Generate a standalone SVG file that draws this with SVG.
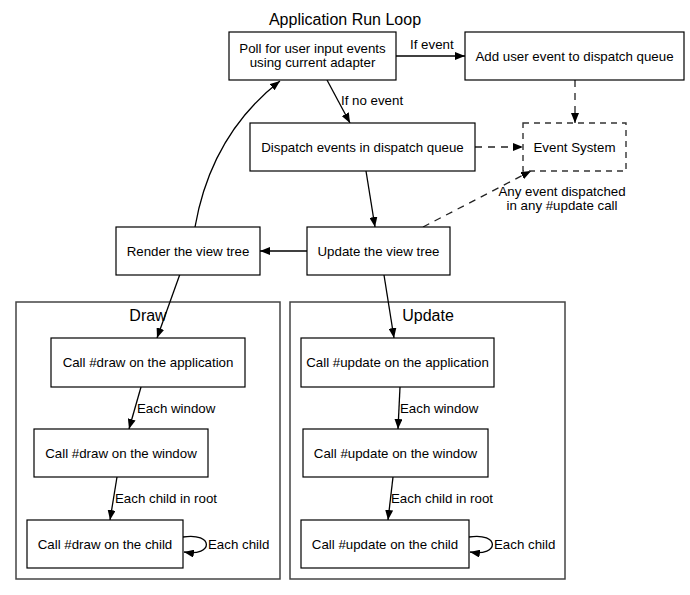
<svg xmlns="http://www.w3.org/2000/svg" width="690" height="595" viewBox="0 0 690 595">
<style>
text{font-family:"Liberation Sans",Arial,sans-serif;font-size:13.3px;fill:#000}
.t{text-anchor:middle}
.big{font-size:16px}
.node{fill:#fff;stroke:#000;stroke-width:1.2}
.dnode{fill:#fff;stroke:#333;stroke-width:1.4;stroke-dasharray:6,5}
.cl{fill:none;stroke:#444;stroke-width:1.5}
.e{fill:none;stroke:#000;stroke-width:1.3}
.de{fill:none;stroke:#222;stroke-width:1.3;stroke-dasharray:7,6}
</style>
<defs>
<marker id="ah" viewBox="0 0 10 8" refX="10" refY="4" markerWidth="10" markerHeight="8" markerUnits="userSpaceOnUse" orient="auto">
<path d="M0,0 L10,4 L0,8 Z" fill="#000"/>
</marker>
</defs>
<rect width="690" height="595" fill="#fff"/>
<text class="t big" x="345" y="25">Application Run Loop</text>

<g id="cluster-draw">
<rect class="cl" x="16" y="302" width="264" height="277"/>
<text class="t big" x="148" y="321">Draw</text>
</g>
<g id="cluster-update">
<rect class="cl" x="290" y="302" width="275" height="277"/>
<text class="t big" x="428" y="321">Update</text>
</g>

<g id="connectors">
<path class="e" d="M396,56 L465,56" marker-end="url(#ah)"/>
<text x="410" y="49">If event</text>
<path class="e" d="M327,80 L350,123" marker-end="url(#ah)"/>
<text x="341" y="105">If no event</text>
<path class="de" d="M575,80 L575,123" marker-end="url(#ah)"/>
<path class="de" d="M475,147 L523,147" marker-end="url(#ah)"/>
<path class="e" d="M366,171 L375,227" marker-end="url(#ah)"/>
<path class="de" d="M423,227 L531,171" marker-end="url(#ah)"/>
<text class="t" x="562" y="196">Any event dispatched</text>
<text class="t" x="562" y="210">in any #update call</text>
<path class="e" d="M307,251 L260,251" marker-end="url(#ah)"/>
<path class="e" d="M195,227 C205,170 230,120 280,81" marker-end="url(#ah)"/>
<path class="e" d="M180,274 L157,338" marker-end="url(#ah)"/>
<path class="e" d="M141,387 L129,429" marker-end="url(#ah)"/>
<text x="137" y="413">Each window</text>
<path class="e" d="M117,477 L110,520" marker-end="url(#ah)"/>
<text x="115" y="503">Each child in root</text>
<path class="e" d="M183,537 C214,532 214,557 184,552" marker-end="url(#ah)"/>
<text x="208" y="549">Each child</text>
<path class="e" d="M384,275 L394,338" marker-end="url(#ah)"/>
<path class="e" d="M400,387 L398,429" marker-end="url(#ah)"/>
<text x="400" y="413">Each window</text>
<path class="e" d="M393,477 L388,520" marker-end="url(#ah)"/>
<text x="391" y="503">Each child in root</text>
<path class="e" d="M469,537 C500,532 500,557 470,552" marker-end="url(#ah)"/>
<text x="494" y="549">Each child</text>
</g>

<g id="poll">
<rect class="node" x="229" y="32" width="167" height="48"/>
<text class="t" x="312.5" y="53">Poll for user input events</text>
<text class="t" x="312.5" y="67">using current adapter</text>
</g>
<g id="add-event">
<rect class="node" x="465" y="32" width="219" height="48"/>
<text class="t" x="574.5" y="61">Add user event to dispatch queue</text>
</g>
<g id="dispatch">
<rect class="node" x="250" y="123" width="225" height="48"/>
<text class="t" x="362.5" y="152">Dispatch events in dispatch queue</text>
</g>
<g id="event-system">
<rect class="dnode" x="523" y="123" width="103" height="48"/>
<text class="t" x="574.5" y="152">Event System</text>
</g>
<g id="update-tree">
<rect class="node" x="307" y="227" width="143" height="48"/>
<text class="t" x="378.5" y="256">Update the view tree</text>
</g>
<g id="render-tree">
<rect class="node" x="116" y="227" width="144" height="48"/>
<text class="t" x="188" y="256">Render the view tree</text>
</g>
<g id="draw-app">
<rect class="node" x="51" y="338" width="194" height="49"/>
<text class="t" x="148" y="367">Call #draw on the application</text>
</g>
<g id="draw-window">
<rect class="node" x="34" y="429" width="174" height="48"/>
<text class="t" x="121" y="458">Call #draw on the window</text>
</g>
<g id="draw-child">
<rect class="node" x="27" y="520" width="156" height="48"/>
<text class="t" x="105" y="549">Call #draw on the child</text>
</g>
<g id="update-app">
<rect class="node" x="301" y="338" width="193" height="49"/>
<text class="t" x="397.5" y="367">Call #update on the application</text>
</g>
<g id="update-window">
<rect class="node" x="303" y="429" width="185" height="48"/>
<text class="t" x="395.5" y="458">Call #update on the window</text>
</g>
<g id="update-child">
<rect class="node" x="301" y="520" width="168" height="48"/>
<text class="t" x="385" y="549">Call #update on the child</text>
</g>
</svg>
